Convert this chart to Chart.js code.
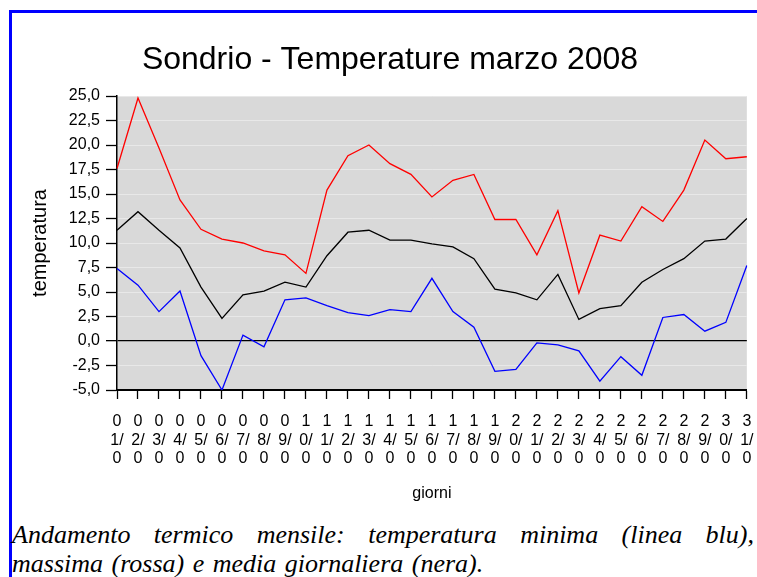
<!DOCTYPE html>
<html>
<head>
<meta charset="utf-8">
<script src="https://cdn.jsdelivr.net/npm/chart.js@4.4.1/dist/chart.umd.min.js"></script>
<style>
  html, body { margin: 0; padding: 0; background: #fff; overflow: hidden; }
  #page { position: relative; width: 757px; height: 577px; overflow: hidden; background: #fff; }
  #frame { position: absolute; left: 9px; top: 10px; width: 760px; height: 600px;
           border-left: 3px solid #0000ff; border-top: 3px solid #0000ff; box-sizing: border-box; }
  #chartBox { position: absolute; left: 33px; top: 0px; width: 734px; height: 503px; }
  .cap { position: absolute; left: 12px; font-family: 'Liberation Serif', 'Times New Roman', serif;
         font-style: italic; font-size: 26px; line-height: 29px; color: #000; white-space: nowrap; }
  #cap1 { top: 520px; width: 742px; text-align: justify; text-align-last: justify; white-space: normal; }
  #cap2 { top: 549px; word-spacing: 2px; }
</style>
</head>
<body>
<div id="page">
  <div id="frame"></div>
  <div id="chartBox"><canvas id="c" width="734" height="503"></canvas></div>
  <div class="cap" id="cap1">Andamento termico mensile: temperatura minima (linea blu),</div>
  <div class="cap" id="cap2">massima (rossa) e media giornaliera (nera).</div>
</div>
<script>
// ---- data ----
const days = ['01','02','03','04','05','06','07','08','09','10','11','12','13','14','15','16',
              '17','18','19','20','21','22','23','24','25','26','27','28','29','30','31'];
const maxT  = [17.6,24.8,19.7,14.4,11.4,10.4,10.0,9.2,8.8,6.9,15.4,18.9,20.0,18.1,17.0,14.7,
               16.4,17.0,12.4,12.4,8.8,13.3,4.9,10.8,10.2,13.7,12.2,15.4,20.5,18.6,18.8];
const meanT = [11.3,13.2,11.3,9.5,5.5,2.3,4.7,5.1,6.0,5.5,8.7,11.1,11.3,10.3,10.3,9.9,
               9.6,8.4,5.3,4.9,4.2,6.8,2.2,3.3,3.6,6.0,7.3,8.4,10.2,10.4,12.5];
const minT  = [7.4,5.7,3.0,5.1,-1.5,-5.0,0.6,-0.6,4.2,4.4,3.6,2.9,2.6,3.2,3.0,6.4,
               3.0,1.4,-3.1,-2.9,-0.2,-0.4,-1.0,-4.1,-1.6,-3.5,2.4,2.7,1.0,1.9,7.7];
const yMin = -5, yMax = 25, yStep = 2.5;
const chartTitle = 'Sondrio - Temperature marzo 2008';
const yTitle = 'temperatura';
const xTitle = 'giorni';

// wrapped day labels as shown: "0" / "1/" / "0"
const xLabels = days.map(d => [d[0], d[1] + '/', '0']);

Chart.defaults.color = '#000';
Chart.defaults.font.family = "'Liberation Sans', Arial, sans-serif";

const plotBg = {
  id: 'plotBg',
  beforeDraw(chart) {
    const a = chart.chartArea, ctx = chart.ctx;
    ctx.save();
    ctx.fillStyle = '#d9d9d9';
    ctx.fillRect(a.left, a.top, a.right - a.left, a.bottom - a.top);
    ctx.restore();
  }
};

new Chart(document.getElementById('c'), {
  type: 'line',
  data: {
    labels: xLabels,
    datasets: [
      { label: 'massima', data: maxT, borderColor: '#ff0000', borderWidth: 1.3, pointRadius: 0, tension: 0, fill: false },
      { label: 'media', data: meanT, borderColor: '#000000', borderWidth: 1.3, pointRadius: 0, tension: 0, fill: false },
      { label: 'minima', data: minT, borderColor: '#0000ff', borderWidth: 1.3, pointRadius: 0, tension: 0, fill: false }
    ]
  },
  options: {
    responsive: false,
    animation: false,
    devicePixelRatio: 1,
    layout: { padding: { top: 41, right: 20, bottom: 0, left: 0 } },
    plugins: {
      legend: { display: false },
      tooltip: { enabled: false },
      title: {
        display: true, text: chartTitle, color: '#000',
        font: { size: 32, weight: 'normal', lineHeight: 1.2 },
        padding: { top: 0, bottom: 16.6 }
      }
    },
    scales: {
      x: {
        type: 'category',
        offset: false,
        grid: { drawOnChartArea: false, drawTicks: true, tickLength: 9, tickColor: '#000', tickWidth: 1.3 },
        border: { color: '#000', width: 2 },
        ticks: { autoSkip: false, maxRotation: 0, minRotation: 0, padding: 13.5,
                 font: { size: 16, lineHeight: 1.15 }, color: '#000' },
        title: { display: true, text: xTitle, font: { size: 16, lineHeight: 1.2 }, padding: 0, color: '#000' },
        afterFit(s) { s.height = 113; }
      },
      y: {
        min: yMin, max: yMax,
        grid: {
          color: ctx => (ctx.tick && ctx.tick.value === 0) ? '#000' : '#e8e8e8',
          lineWidth: ctx => (ctx.tick && ctx.tick.value === 0) ? 1.3 : 1,
          tickColor: '#000', tickLength: 11, tickWidth: 1.3
        },
        border: { color: '#000', width: 1.5 },
        ticks: { stepSize: yStep, padding: 6, font: { size: 16 }, color: '#000',
                 callback: v => v.toFixed(1).replace('.', ',') },
        title: { display: true, text: yTitle, font: { size: 20, lineHeight: 0.7 }, padding: 0, color: '#000' },
        afterFit(s) { s.width = 84; }
      }
    }
  },
  plugins: [plotBg]
});
</script>
</body>
</html>
